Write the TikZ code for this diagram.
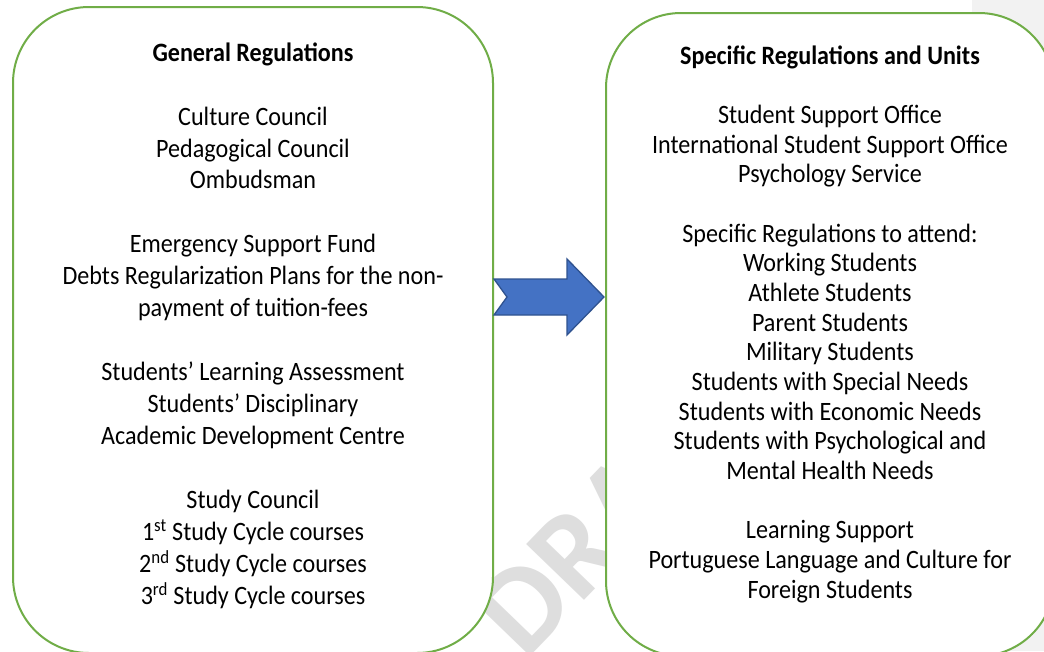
\documentclass[tikz,border=0pt]{standalone}
\usepackage{fontspec}
\setmainfont{Carlito}[FakeStretch=0.91]
\newfontfamily\wmfont{Carlito}
\usetikzlibrary{calc}
\definecolor{boxgreen}{HTML}{70AD47}
\definecolor{arrowfill}{HTML}{4472C4}
\definecolor{arrowedge}{HTML}{2F528F}
\definecolor{sidegrey}{HTML}{F2F2F2}
\lineskiplimit=-100pt
\begin{document}
\begin{tikzpicture}[x=1pt,y=-1pt,
  regbox/.style={draw=boxgreen, line width=2pt, fill=white, inner sep=0pt, outer sep=0pt},
  boxtext/.style={anchor=north, inner sep=0pt, align=center, text=black},
  bigarrow/.style={draw=arrowedge, fill=arrowfill, line width=1.3pt, line join=miter}]
\useasboundingbox (0,0) rectangle (1044,651);
\clip (0,0) rectangle (1044,651);
\fill[white] (0,0) rectangle (1044,651);
% grey page margin on the right
\fill[sidegrey] (972,0) rectangle (1044,651);
% watermark
\node[rotate=46, anchor=base west, inner sep=0pt, text=black!13,
      font=\wmfont\bfseries\fontsize{124}{124}\selectfont] (watermark) at (525,662) {DRAFT};
% the two rounded boxes
\node[regbox, minimum width=480pt, minimum height=646pt, rounded corners=76pt] (general) at (253,330) {};
\node[regbox, minimum width=448pt, minimum height=643pt, rounded corners=75pt] (specific) at (830,334.5) {};
% notched block arrow from the general to the specific box
\coordinate (tail) at ($(general.east)+(1,-33)$);
\coordinate (tip) at ($(specific.west)+(-2,-37.5)$);
\draw[bigarrow]
  ($(tail)+(0,-18)$) -- ($(tip)+(-37,-18)$) -- ($(tip)+(-37,-38)$) -- (tip)
  -- ($(tip)+(-37,38)$) -- ($(tip)+(-37,18)$) -- ($(tail)+(0,18)$)
  -- ($(tail)+(13,0)$) -- cycle;
% box contents
\node[boxtext, font=\fontsize{26.5}{31.94}\selectfont] (generaltext) at (253,41) {%
  \rule{0pt}{20pt}\textbf{General Regulations}\\[31.94pt]
  Culture Council\\
  Pedagogical Council\\
  Ombudsman\\[31.94pt]
  Emergency Support Fund\\
  Debts Regularization Plans for the non-\\
  payment of tuition-fees\\[31.94pt]
  Students’ Learning Assessment\\
  Students’ Disciplinary\\
  Academic Development Centre\\[31.94pt]
  Study Council\\
  1\textsuperscript{st} Study Cycle courses\\
  2\textsuperscript{nd} Study Cycle courses\\
  3\textsuperscript{rd} Study Cycle courses};
\node[boxtext, font=\fontsize{26.5}{29.67}\selectfont] (specifictext) at (830,44) {%
  \rule{0pt}{20pt}\textbf{Specific Regulations and Units}\\[29.67pt]
  Student Support Office\\
  International Student Support Office\\
  Psychology Service\\[29.67pt]
  Specific Regulations to attend:\\
  Working Students\\
  Athlete Students\\
  Parent Students\\
  Military Students\\
  Students with Special Needs\\
  Students with Economic Needs\\
  Students with Psychological and\\
  Mental Health Needs\\[29.67pt]
  Learning Support\\
  Portuguese Language and Culture for\\
  Foreign Students};
\end{tikzpicture}
\end{document}
